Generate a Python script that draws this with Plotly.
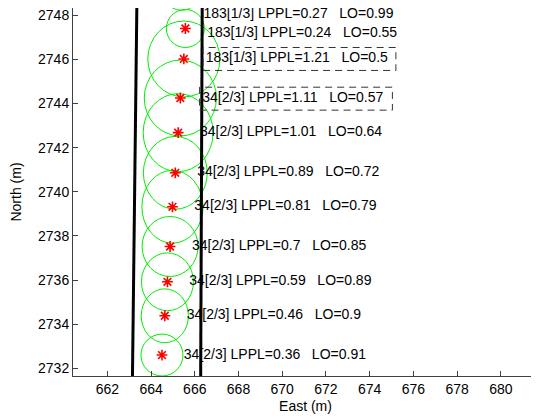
import plotly.graph_objects as go

# ---- data ----
east_star = [665.40, 665.57, 665.50, 665.34, 665.24, 665.11, 664.98, 664.87, 664.75, 664.63, 664.50]
north_star = [2749.15, 2747.40, 2746.02, 2744.25, 2742.68, 2740.86, 2739.32, 2737.52, 2735.92, 2734.38, 2732.60]
radius_east = [0.92, 0.87, 1.65, 1.65, 1.60, 1.46, 1.40, 1.28, 1.19, 1.08, 0.96]
radius_north = [0.92, 0.86, 1.72, 1.72, 1.77, 1.65, 1.65, 1.36, 1.31, 1.22, 0.95]
label_north = [2748.03, 2747.19, 2746.02, 2744.22, 2742.68, 2740.86, 2739.32, 2737.52, 2735.92, 2734.38, 2732.60]
group = ["183[1/3]", "183[1/3]", "183[1/3]", "34[2/3]", "34[2/3]", "34[2/3]",
         "34[2/3]", "34[2/3]", "34[2/3]", "34[2/3]", "34[2/3]"]
lppl = ["0.27", "0.24", "1.21", "1.11", "1.01", "0.89", "0.81", "0.7", "0.59", "0.46", "0.36"]
lo = ["0.99", "0.55", "0.5", "0.57", "0.64", "0.72", "0.79", "0.85", "0.89", "0.9", "0.91"]
boxed = [False, False, True, True, False, False, False, False, False, False, False]

left_edge_east = [663.15, 663.35]
right_edge_east = [666.27, 666.34]
edge_north = [2731.65, 2748.38]

x_ticks = [662, 664, 666, 668, 670, 672, 674, 676, 678, 680]
y_ticks = [2732, 2734, 2736, 2738, 2740, 2742, 2744, 2746, 2748]
x_range = [660.43, 681.70]
y_range = [2731.65, 2748.33]

# ---- style ----
FONT = "Liberation Sans, Arial, Helvetica, sans-serif"
LABEL_OFFSET = 1.0
SP = "\u00a0"

label_east = [e + LABEL_OFFSET for e in east_star]
label_text = [f"{g}{SP}LPPL={a}{SP*3}LO={b}" for g, a, b in zip(group, lppl, lo)]

fig = go.Figure()

# text labels (drawn before the black lines so lines cover them)
fig.add_trace(go.Scatter(
    x=label_east, y=label_north, mode="text", text=label_text,
    textposition="middle right", textfont=dict(family=FONT, size=14, color="black"),
    cliponaxis=False, showlegend=False, hoverinfo="skip"))

# star markers
fig.add_trace(go.Scatter(
    x=east_star, y=north_star, mode="markers",
    marker=dict(symbol="asterisk-open", size=9, color="red",
                line=dict(color="red", width=1.6)),
    showlegend=False))

# boundary lines
for ex in (left_edge_east, right_edge_east):
    fig.add_trace(go.Scatter(x=ex, y=edge_north, mode="lines",
                             line=dict(color="black", width=3), showlegend=False))

shapes = []
for cx, cy, rx, ry in zip(east_star, north_star, radius_east, radius_north):
    shapes.append(dict(type="circle", xref="x", yref="y", layer="below",
                       x0=cx - rx, x1=cx + rx, y0=cy - ry, y1=cy + ry,
                       line=dict(color="#00ee00", width=1)))
for lx, ly, b in zip(label_east, label_north, boxed):
    if b:
        shapes.append(dict(type="rect", xref="x", yref="y", layer="above",
                           x0=lx - 0.12, x1=lx + 8.7, y0=ly - 0.52, y1=ly + 0.52,
                           line=dict(color="#333333", width=1, dash="7px,5px")))

axis_common = dict(showgrid=False, zeroline=False, showline=True, linecolor="#404040",
                   linewidth=1, ticks="inside", ticklen=5, tickcolor="#404040",
                   tickfont=dict(family=FONT, size=14, color="black"), mirror=False,
                   ticklabeloverflow="allow")

# the page body adds an 8px margin, so the figure is sized/offset to compensate
fig.update_layout(
    width=531, height=408,
    margin=dict(l=65, r=1, t=0, b=40, autoexpand=False),
    paper_bgcolor="white", plot_bgcolor="white",
    shapes=shapes,
    xaxis=dict(range=x_range, tickvals=x_ticks, ticktext=[str(v) for v in x_ticks],
               title=dict(text="East (m)", font=dict(family=FONT, size=14, color="black"),
                          standoff=5),
               **axis_common),
    yaxis=dict(range=y_range, tickvals=y_ticks, ticktext=[str(v) for v in y_ticks],
               title=dict(text="North (m)", font=dict(family=FONT, size=14, color="black"),
                          standoff=14),
               **axis_common),
)

fig.write_html("out.html")
